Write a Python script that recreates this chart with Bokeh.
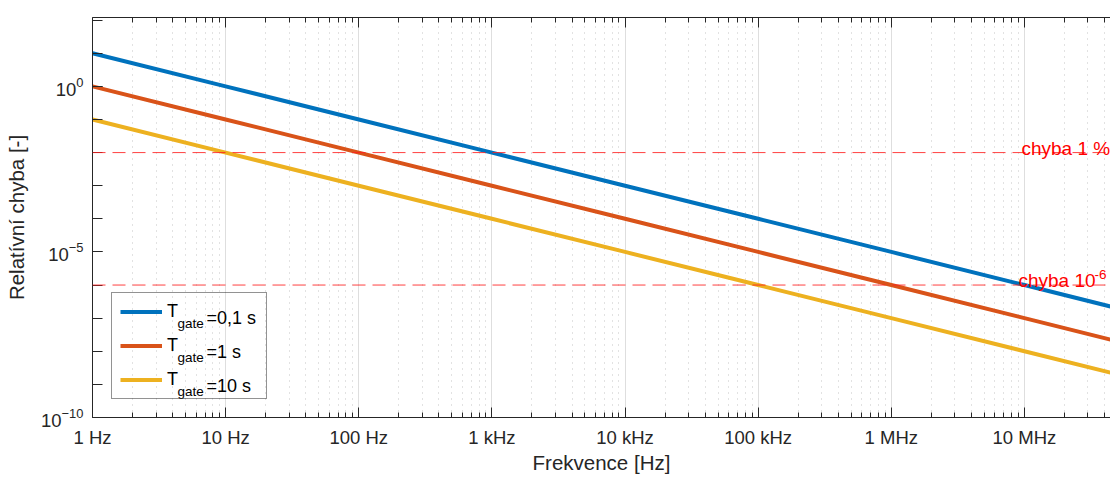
from bokeh.plotting import figure
from bokeh.models import (LogAxis, FixedTicker, Span, Label, Legend, LegendItem, Range1d,
                          CustomJSTickFormatter)
from bokeh.embed import file_html
from bokeh.resources import INLINE

# ---- data ----
freq_hz = [1, 1e1, 1e2, 1e3, 1e4, 1e5, 1e6, 1e7, 5e7]
err_gate_0_1s = [10, 1, 1e-1, 1e-2, 1e-3, 1e-4, 1e-5, 1e-6, 2e-7]
err_gate_1s = [1, 1e-1, 1e-2, 1e-3, 1e-4, 1e-5, 1e-6, 1e-7, 2e-8]
err_gate_10s = [1e-1, 1e-2, 1e-3, 1e-4, 1e-5, 1e-6, 1e-7, 1e-8, 2e-9]
series_values = [err_gate_0_1s, err_gate_1s, err_gate_10s]
series_suffix = ["=0,1 s", "=1 s", "=10 s"]
series_colors = ["#0072BD", "#D95319", "#EDB120"]

x_tick_values = [1.0, 1e1, 1e2, 1e3, 1e4, 1e5, 1e6, 1e7]
x_tick_labels = ["1 Hz", "10 Hz", "100 Hz", "1 kHz", "10 kHz", "100 kHz", "1 MHz", "10 MHz"]
y_tick_values = [1e-10, 1e-5, 1.0]
y_decades = [10.0 ** e for e in range(-10, 3)]

threshold_values = [1e-2, 1e-6]
threshold_text = ["chyba 1 %", "chyba 10"]
threshold_sup = ["", "-6"]

X_MIN, X_MAX = 1, 4.43e7
Y_MIN, Y_MAX = 1e-10, 120

FONT = "Liberation Sans"
DARK = "#262626"

p = figure(width=1110, height=477, x_axis_type="log", y_axis_type="log",
           x_range=Range1d(X_MIN, X_MAX), y_range=Range1d(Y_MIN, Y_MAX),
           output_backend="svg", toolbar_location=None,
           min_border_left=92, min_border_right=0, min_border_top=17, min_border_bottom=60,
           outline_line_color=None, background_fill_color="white")

x_minor = [k * d for d in x_tick_values for k in range(2, 10)]
xticker = FixedTicker(ticks=x_tick_values, minor_ticks=x_minor)
yticker = FixedTicker(ticks=y_tick_values, minor_ticks=y_decades)

xa = p.xaxis[0]
xa.ticker = xticker
xa.major_label_overrides = {v: s for v, s in zip(x_tick_values, x_tick_labels)}
xa.axis_label = "Frekvence [Hz]"

ya = p.yaxis[0]
ya.ticker = yticker
ya.axis_label = "Relatívní chyba [-]"

for ax in (xa, ya):
    ax.axis_line_color = DARK
    ax.major_tick_line_color = DARK
    ax.minor_tick_line_color = DARK
    ax.major_tick_in = 10
    ax.major_tick_out = 0
    ax.major_label_text_font = FONT
    ax.major_label_text_font_size = "18.5px"
    ax.major_label_text_color = DARK
    ax.axis_label_text_font = FONT
    ax.axis_label_text_font_size = "20.5px"
    ax.axis_label_text_font_style = "normal"
    ax.axis_label_text_color = DARK
xa.minor_tick_in = 5
xa.minor_tick_out = 0
xa.major_label_standoff = 9
xa.axis_label_standoff = 0
ya.minor_tick_in = 10
ya.minor_tick_out = 0
ya.major_label_standoff = 9
ya.axis_label_standoff = 10

top = LogAxis(ticker=xticker, formatter=CustomJSTickFormatter(code="return ''"),
              major_label_standoff=0, major_label_text_font_size="8px",
              axis_line_color=DARK, major_tick_line_color=DARK, minor_tick_line_color=DARK,
              major_tick_in=10, major_tick_out=0, minor_tick_in=5, minor_tick_out=0)
p.add_layout(top, "above")

p.xgrid.ticker = xticker
p.xgrid.grid_line_color = "#dedede"
p.xgrid.grid_line_width = 1
p.xgrid.minor_grid_line_color = "#c4c4c4"
p.xgrid.minor_grid_line_dash = "1 5"
p.ygrid.visible = False

renderers = []
for vals, col in zip(series_values, series_colors):
    r = p.line(freq_hz, vals, line_color=col, line_width=4)
    renderers.append(r)

for v in threshold_values:
    p.add_layout(Span(location=v, dimension="width", line_color="#ff2020",
                      line_alpha=0.85, line_width=1, line_dash="13 7"))

legend = Legend(items=[LegendItem(label="T", renderers=[r]) for r in renderers],
                location=(19, 18), padding=8, spacing=13, margin=0,
                glyph_width=42, glyph_height=21, label_height=21, label_width=91,
                label_standoff=5, border_line_color=DARK, border_line_width=1,
                background_fill_color="white", background_fill_alpha=0.0,
                label_text_font=FONT, label_text_font_size="18px", label_text_color="black")
p.add_layout(legend)

# subscript "gate" and the rest of each legend entry, placed from the frame's bottom-left corner
row_base = [100, 66, 32]
for yb, suf in zip(row_base, series_suffix):
    p.add_layout(Label(x=X_MIN, y=Y_MIN, x_offset=85, y_offset=yb - 6, text="gate",
                       text_font=FONT, text_font_size="13.5px", text_color="black",
                       text_baseline="alphabetic", text_align="left"))
    p.add_layout(Label(x=X_MIN, y=Y_MIN, x_offset=114, y_offset=yb, text=suf,
                       text_font=FONT, text_font_size="18px", text_color="black",
                       text_baseline="alphabetic", text_align="left"))

x_offsets = [-3, -6]
y_offsets = [4, 5]
for v, txt, sup, xo, yo in zip(threshold_values, threshold_text, threshold_sup, x_offsets, y_offsets):
    p.add_layout(Label(x=1e7, y=v, x_offset=xo, y_offset=yo, text=txt, text_color="red",
                       text_font=FONT, text_font_size="19px", text_baseline="alphabetic",
                       text_align="left"))
    if sup:
        p.add_layout(Label(x=1e7, y=v, x_offset=xo + 76, y_offset=yo + 6, text=sup,
                           text_color="red", text_font=FONT, text_font_size="13.5px",
                           text_baseline="alphabetic", text_align="left"))

open("out.html", "w").write(file_html(p, INLINE))
